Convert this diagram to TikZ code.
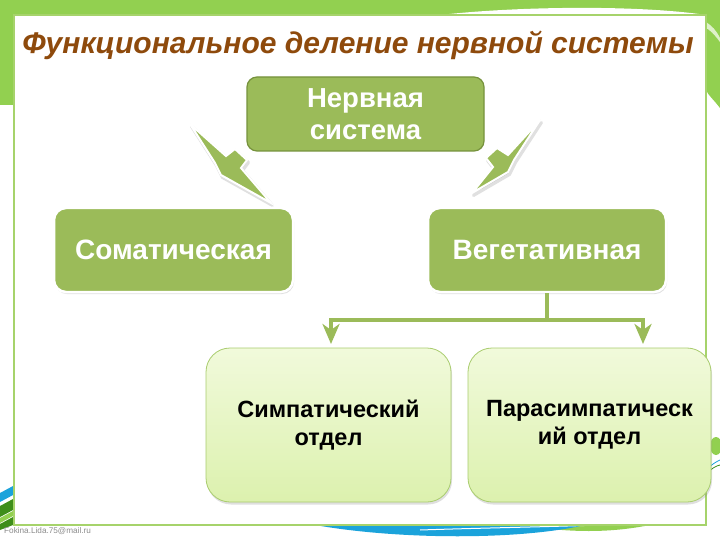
\documentclass[tikz,border=0pt]{standalone}
\usepackage{fontspec}
\setmainfont{Liberation Sans}
\usetikzlibrary{arrows.meta,shadows,calc}
\definecolor{ogreen}{HTML}{9BBB59}
\definecolor{odark}{HTML}{76923C}
\definecolor{lgreen}{HTML}{92D050}
\definecolor{framegreen}{HTML}{A6D36B}
\definecolor{titlebrown}{HTML}{8E4A0C}
\definecolor{ptop}{HTML}{F1FADB}
\definecolor{pbot}{HTML}{DCF1AE}
\definecolor{pborder}{HTML}{A9CC6E}
\definecolor{sblue}{HTML}{1BA3DB}
\definecolor{dgreen}{HTML}{3E8E1A}
\begin{document}
\begin{tikzpicture}[x=1pt,y=-1pt,
  lvltop/.style={rectangle, rounded corners=10pt, fill=ogreen, draw=odark, line width=1.2pt,
    text=white, font=\bfseries\fontsize{27.5}{32}\selectfont, align=center,
    minimum width=237pt, minimum height=74pt, inner sep=0pt},
  lvltwo/.style={rectangle, rounded corners=12pt, fill=ogreen, draw=white, line width=2.5pt,
    text=white, font=\bfseries\fontsize{28}{32}\selectfont, align=center,
    minimum width=239pt, minimum height=84pt, inner sep=0pt,
    drop shadow={opacity=0.25, shadow xshift=1pt, shadow yshift=-2pt}},
  lvlthree/.style={rectangle, rounded corners=24pt, top color=ptop, bottom color=pbot,
    draw=pborder, line width=0.8pt, text=black,
    font=\bfseries\fontsize{23.5}{28}\selectfont, align=center,
    minimum width=244pt, minimum height=154pt, inner sep=0pt,
    drop shadow={opacity=0.25, shadow xshift=1pt, shadow yshift=-2.5pt}},
  conn/.style={draw=ogreen, line width=4pt},
  connarrow/.style={conn, -{Stealth[length=20pt,width=17pt,inset=6pt]}},
  bolt/.style={fill=ogreen, draw=white, line width=2pt, line join=miter},
  boltshadow/.style={fill=black!25, draw=black!12, line width=3pt, line join=round}
]
\useasboundingbox (0,0) rectangle (720,540);
\fill[white] (0,0) rectangle (720,540);
% background decoration
\fill[lgreen] (0,0) rectangle (720,15);
\fill[lgreen] (0,0) rectangle (14,105);
\fill[lgreen] (706,0) -- (720,0) -- (720,108) .. controls (714,100) and (708,95) .. (706,90) -- cycle;
\fill[white] (440,15) .. controls (520,6) and (640,5) .. (706,15) -- cycle;
\fill[white!70!lgreen] (706,22) .. controls (712,26) and (716,30) .. (720,38) -- (720,42) .. controls (714,34) and (710,30) .. (706,28) -- cycle;
% bottom-left stripes
\fill[sblue] (0,493) -- (13,486) -- (13,495) -- (0,502) -- cycle;
\fill[dgreen] (0,506) -- (13,499) -- (13,510) -- (0,517) -- cycle;
\fill[lgreen] (0,518) -- (13,511) -- (13,516) -- (0,523) -- cycle;
\fill[dgreen] (0,524) -- (13,517) -- (13,525) -- (0,530) -- cycle;
% bottom swoosh
\fill[lgreen] (520,525) .. controls (570,533) and (610,533) .. (650,525) -- cycle;
\fill[sblue] (315,525) .. controls (400,540) and (520,540) .. (585,525) -- cycle;
\draw[white, line width=1pt] (420,530) .. controls (480,528) and (540,527) .. (600,525);
% right side decoration
\fill[lgreen] (716,446) ellipse (6pt and 9pt);
\draw[sblue, line width=0.8pt] (706,470) .. controls (712,464) and (716,462) .. (720,460);
\draw[dgreen, line width=0.8pt] (706,474) .. controls (712,468) and (716,466) .. (720,465);
% frame
\draw[framegreen, line width=2pt, fill=white] (14,15) rectangle (706,525);
% footer
\node[anchor=west, inner sep=0pt, text=black!45, font=\fontsize{8.2}{9}\selectfont] (foot) at (4,531) {Fokina.Lida.75@mail.ru};
% title
\node[inner sep=0pt, text=titlebrown, font=\bfseries\itshape\fontsize{30}{34}\selectfont] (title) at (358,45) {Функциональное деление нервной системы};
% lightning bolts
\begin{scope}[shift={(1.5,2.5)}]
\path[boltshadow] (190,124) -- (226,156) -- (235,149) -- (247,160) -- (241,168) -- (271,203) -- (221,175) -- (215,163) -- cycle;
\path[boltshadow] (540,120) -- (508,155) -- (497,148) -- (486,158) -- (493,167) -- (472,193) -- (508,172) -- (514,160) -- cycle;
\end{scope}
\path[bolt] (190,124) -- (226,156) -- (235,149) -- (247,160) -- (241,168) -- (271,203) -- (221,175) -- (215,163) -- cycle;
\path[bolt] (540,120) -- (508,155) -- (497,148) -- (486,158) -- (493,167) -- (472,193) -- (508,172) -- (514,160) -- cycle;
% nodes
\node[lvltop] (nerv) at (365.5,114) {Нервная\\система};
\node[lvltwo] (som) at (173.5,250) {Соматическая};
\node[lvltwo, minimum width=238pt] (veg) at (547,250) {Вегетативная};
\node[lvlthree, minimum width=245pt] (symp) at (328.5,425) {Симпатический\\отдел};
\node[lvlthree, minimum width=243pt] (para) at (589.5,425) {Парасимпатическ\\ий отдел};
% connectors
\coordinate (j) at (547,320);
\coordinate (a1) at (331,344);
\coordinate (a2) at (643,344);
\draw[conn] (veg.south) -- (j);
\draw[connarrow] (j) -| (a1);
\draw[connarrow] (j) -| (a2);
\end{tikzpicture}
\end{document}
